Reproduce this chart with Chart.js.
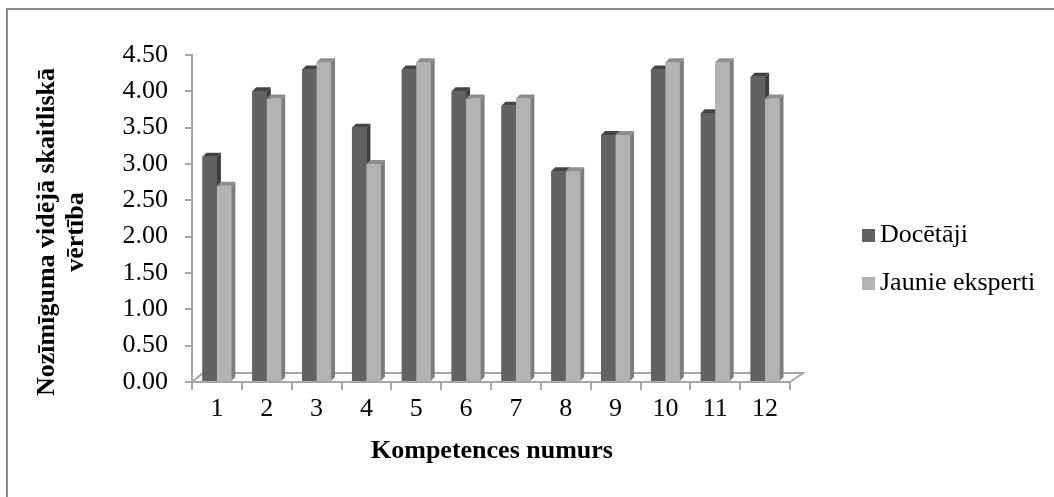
<!DOCTYPE html>
<html>
<head>
<meta charset="utf-8">
<script src="https://cdn.jsdelivr.net/npm/chart.js@4.4.1/dist/chart.umd.min.js"></script>
<style>
html,body{margin:0;padding:0;background:#fff;}
#wrap{position:absolute;left:0;top:0;width:1054px;height:497px;}
</style>
</head>
<body>
<div id="wrap"><canvas id="c" width="1054" height="497"></canvas></div>
<script>
// ---- data ----
const categories = ['1','2','3','4','5','6','7','8','9','10','11','12'];
const docetaji = [3.1, 4.0, 4.3, 3.5, 4.3, 4.0, 3.8, 2.9, 3.4, 4.3, 3.7, 4.2];
const jaunieEksperti = [2.7, 3.9, 4.4, 3.0, 4.4, 3.9, 3.9, 2.9, 3.4, 4.4, 4.4, 3.9];
const seriesNames = ['Docētāji', 'Jaunie eksperti'];
const yTitleLines = ['Nozīmīguma vidējā skaitliskā', 'vērtība'];
const xTitle = 'Kompetences numurs';

const FONT = '"Liberation Serif", "Times New Roman", serif';
const colors = [
  {front:'#626262', top:'#444444', side:'#3c3c3c'},
  {front:'#b3b3b3', top:'#8e8e8e', side:'#7d7d7d'}
];
const D = 4; // depth of bar faces

const decor = {
  id:'decor',
  beforeDraw(chart){
    const ctx = chart.ctx;
    ctx.save();
    ctx.fillStyle = '#fff';
    ctx.fillRect(0,0,chart.width,chart.height);
    ctx.strokeStyle = '#8c8c8c';
    ctx.lineWidth = 2;
    ctx.beginPath();
    ctx.moveTo(7, chart.height);
    ctx.lineTo(7, 9);
    ctx.lineTo(chart.width, 9);
    ctx.stroke();
    ctx.restore();
  },
  beforeDatasetsDraw(chart){
    const ctx = chart.ctx, a = chart.chartArea;
    ctx.save();
    ctx.strokeStyle = '#a6a6a6';
    ctx.lineWidth = 2;
    ctx.beginPath();
    ctx.moveTo(a.left, a.bottom);
    ctx.lineTo(a.left + 11, a.bottom - 9);
    ctx.lineTo(a.right + 13, a.bottom - 9);
    ctx.lineTo(a.right, a.bottom);
    ctx.stroke();
    ctx.restore();
  },
  afterDatasetsDraw(chart){
    const ctx = chart.ctx;
    ctx.save();
    const metas = [0,1].map(i => chart.getDatasetMeta(i));
    categories.forEach((_, k) => {
      metas.forEach((meta, i) => {
        const c = colors[i];
        const el = meta.data[k];
        const p = el.getProps(['x','y','base','width'], true);
        const l = p.x - p.width/2, r = p.x + p.width/2;
        ctx.fillStyle = c.front;
        ctx.fillRect(l, p.y, r - l, p.base - p.y);
        ctx.fillStyle = c.top;
        ctx.beginPath();
        ctx.moveTo(l, p.y); ctx.lineTo(l + D, p.y - D);
        ctx.lineTo(r + D, p.y - D); ctx.lineTo(r, p.y);
        ctx.closePath(); ctx.fill();
        ctx.fillStyle = c.side;
        ctx.beginPath();
        ctx.moveTo(r, p.y); ctx.lineTo(r + D, p.y - D);
        ctx.lineTo(r + D, p.base - D); ctx.lineTo(r, p.base);
        ctx.closePath(); ctx.fill();
      });
    });
    ctx.restore();
  },
  afterDraw(chart){
    const ctx = chart.ctx;
    ctx.save();
    ctx.fillStyle = '#000';
    ctx.font = 'bold 26px ' + FONT;
    ctx.textAlign = 'center';
    ctx.textBaseline = 'middle';
    ctx.translate(47, 232);
    ctx.rotate(-Math.PI/2);
    yTitleLines.forEach((t,i) => ctx.fillText(t, 0, i*29));
    ctx.restore();
    ctx.save();
    ctx.fillStyle = '#000';
    ctx.font = 'bold 26px ' + FONT;
    ctx.textAlign = 'center';
    ctx.textBaseline = 'middle';
    ctx.fillText(xTitle, 492, 451);
    ctx.font = '26px ' + FONT;
    ctx.textAlign = 'left';
    seriesNames.forEach((n,i) => {
      const cy = 235 + i*48;
      ctx.fillStyle = colors[i].front;
      ctx.fillRect(862, cy - 6, 13, 13);
      ctx.fillStyle = '#000';
      ctx.fillText(n, 880, cy);
    });
    ctx.restore();
  }
};

new Chart(document.getElementById('c'), {
  type:'bar',
  data:{
    labels: categories,
    datasets:[
      {label: seriesNames[0], data: docetaji, backgroundColor: colors[0].front},
      {label: seriesNames[1], data: jaunieEksperti, backgroundColor: colors[1].front}
    ]
  },
  options:{
    responsive:false,
    animation:false,
    devicePixelRatio:1,
    layout:{padding:{left:0, right:264, top:55, bottom:0}},
    datasets:{bar:{categoryPercentage:0.58, barPercentage:1.0}},
    plugins:{legend:{display:false}, tooltip:{enabled:false}, title:{display:false}},
    scales:{
      x:{
        offset:true,
        grid:{drawOnChartArea:false, offset:true, tickLength:8, color:'#a6a6a6', lineWidth:2},
        border:{color:'#a6a6a6', width:2},
        ticks:{font:{family:FONT, size:26}, color:'#000', padding:4, maxRotation:0},
        afterFit(s){ s.height = 115; }
      },
      y:{
        min:0, max:4.5,
        grid:{drawOnChartArea:false, tickLength:7, color:'#a6a6a6', lineWidth:2},
        border:{color:'#a6a6a6', width:2},
        ticks:{stepSize:0.5, font:{family:FONT, size:26}, color:'#000', padding:17,
               callback:(v)=>Number(v).toFixed(2)},
        afterFit(s){ s.width = 192; }
      }
    }
  },
  plugins:[decor]
});
</script>
</body>
</html>
